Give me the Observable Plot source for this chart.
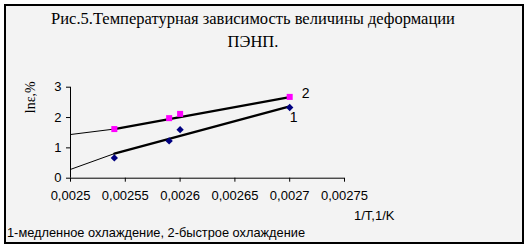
<!DOCTYPE html>
<html>
<head>
<meta charset="utf-8">
<script src="https://cdn.jsdelivr.net/npm/d3@7"></script>
<script src="https://cdn.jsdelivr.net/npm/@observablehq/plot@0.6"></script>
<style>
  html, body { margin: 0; padding: 0; background: #ffffff; }
  #chart { position: relative; width: 528px; height: 248px; overflow: hidden; }
  #frame { position: absolute; left: 4px; top: 4px; width: 516px; height: 236px;
           border: 2px solid #000; background: #f3f3f3; }
  #title { position: absolute; left: 0; width: 506px; top: 7px; text-align: center;
           font-family: "Liberation Serif", "Times New Roman", serif; font-size: 16.5px;
           line-height: 23px; color: #000; }
  #caption { position: absolute; left: 7px; top: 225px; font-family: "Liberation Sans", Arial, sans-serif;
             font-size: 12.8px; color: #000; white-space: nowrap; }
  #plot { position: absolute; left: 0; top: 0; }
</style>
</head>
<body>
<div id="chart">
  <div id="frame"></div>
  <div id="title">Рис.5.Температурная зависимость величины деформации<br>ПЭНП.</div>
  <div id="plot"></div>
  <div id="caption">1-медленное охлаждение, 2-быстрое охлаждение</div>
</div>
<script>
// 1/T values (1/K) and ln of deformation (%) for both cooling modes
const invT = [0.00254, 0.00259, 0.0026, 0.0027];
const lnEps1 = [0.67, 1.23, 1.60, 2.33];   // 1 — slow cooling
const lnEps2 = [1.62, 1.98, 2.12, 2.68];   // 2 — fast cooling

// linear trend lines: thin backward extension, then thick fitted part
const trendX = [0.0025, 0.00254, 0.0027];
const trend1 = [0.29, 0.81, 2.37];
const trend2 = [1.44, 1.62, 2.67];

// axis ticks
const xTicks = [0.0025, 0.00255, 0.0026, 0.00265, 0.0027, 0.00275];
const xTickLabels = ["0,0025", "0,00255", "0,0026", "0,00265", "0,0027", "0,00275"];
const yTicks = [0, 1, 2, 3];
const yTickLabels = ["0", "1", "2", "3"];

const pts1 = invT.map((x, i) => ({x, y: lnEps1[i]}));
const pts2 = invT.map((x, i) => ({x, y: lnEps2[i]}));
const tr1 = trendX.map((x, i) => ({x, y: trend1[i]}));
const tr2 = trendX.map((x, i) => ({x, y: trend2[i]}));

const sans = "'Liberation Sans', Arial, sans-serif";
const serif = "'Liberation Serif', 'Times New Roman', serif";

const plot = Plot.plot({
  width: 528,
  height: 248,
  marginLeft: 70,
  marginRight: 184,
  marginTop: 86.7,
  marginBottom: 70.3,
  style: {background: "transparent", fontFamily: sans, fontSize: "13px", color: "#000", overflow: "visible"},
  x: {domain: [0.0025, 0.00275]},
  y: {domain: [0, 3]},
  marks: [
    Plot.axisX({ticks: xTicks, tickFormat: (d, i) => xTickLabels[i], tickSize: 4, tickPadding: 9,
                label: null, fontSize: 13}),
    Plot.axisY({ticks: yTicks, tickFormat: (d, i) => yTickLabels[i], tickSize: 4, tickPadding: 5,
                label: null, fontSize: 13}),
    Plot.ruleY([0], {x1: 0.0025, x2: 0.00275, stroke: "#000"}),
    Plot.ruleX([0.0025], {y1: 0, y2: 3, stroke: "#000"}),
    // trend lines
    Plot.line(tr1.slice(0, 2), {x: "x", y: "y", stroke: "#000", strokeWidth: 1}),
    Plot.line(tr2.slice(0, 2), {x: "x", y: "y", stroke: "#000", strokeWidth: 1}),
    Plot.line(tr1.slice(1), {x: "x", y: "y", stroke: "#000", strokeWidth: 2.3}),
    Plot.line(tr2.slice(1), {x: "x", y: "y", stroke: "#000", strokeWidth: 2.3}),
    // data points
    Plot.dot(pts1, {x: "x", y: "y", symbol: "diamond2", r: 3.3, fill: "#000080", stroke: "none"}),
    Plot.dot(pts2, {x: "x", y: "y", symbol: "square", r: 3.4, fill: "#ff00ff", stroke: "none"}),
    // series numbers next to the last points
    Plot.text([pts2[pts2.length - 1]], {x: "x", y: "y", text: () => "2", dx: 16, dy: -3,
      fontSize: 14, fontFamily: sans, fill: "#000"}),
    Plot.text([pts1[pts1.length - 1]], {x: "x", y: "y", text: () => "1", dx: 4, dy: 10,
      fontSize: 14, fontFamily: sans, fill: "#000"}),
    // axis titles
    Plot.text(["1/T,1/K"], {frameAnchor: "bottom-right", dx: 50, dy: 42, textAnchor: "end",
      fontSize: 13, fontFamily: sans, fill: "#000"}),
    Plot.text(["lnε,%"], {frameAnchor: "top-left", dx: -40, dy: 10, rotate: -90,
      textAnchor: "middle", lineAnchor: "middle",
      fontSize: 14, fontFamily: serif, fill: "#000"})
  ]
});
document.getElementById("plot").appendChild(plot);
</script>
</body>
</html>
